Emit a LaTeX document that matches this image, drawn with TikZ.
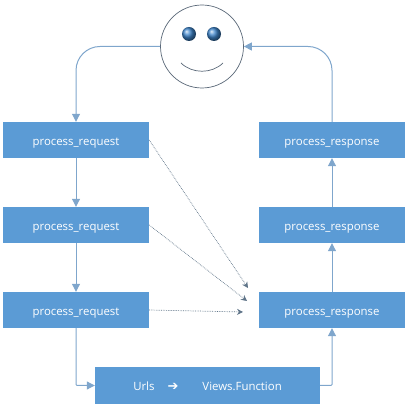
\documentclass[tikz,border=0pt]{standalone}
\usepackage{fontspec}
\setmainfont{Open Sans}
\newfontfamily\symbfont{DejaVu Sans}
\usetikzlibrary{arrows.meta,positioning,calc}
\definecolor{sm-blue}{HTML}{5B9BD5}
\definecolor{sm-line}{HTML}{7FA6CC}
\definecolor{sm-dot}{HTML}{5F7488}
\definecolor{sm-ink}{HTML}{5A6878}
\definecolor{sm-eye}{HTML}{3F86CC}

\begin{document}
\begin{tikzpicture}[
  x=1pt,y=1pt,font=\fontsize{11.4}{13}\selectfont,
  box/.style={fill=sm-blue,text=white,minimum width=146pt,minimum height=36pt,
              text height=13pt,text depth=2pt,align=center,inner sep=2pt},
  ar/.style={-{Triangle[length=8pt,width=8pt]},sm-line,line width=1pt},
  dt/.style={-{Stealth[length=6pt,width=6pt]},sm-dot,line width=0.7pt,densely dotted},
  eye/.style={circle,minimum size=14pt,inner sep=0pt,ball color=sm-eye}
]
\useasboundingbox (0,0) rectangle (411,420);

\node[draw=sm-ink,line width=0.7pt,fill=white,circle,minimum size=83pt,inner sep=0pt] (face) at (202,373.5) {};
\node[eye] (eyel) at (189,386) {};
\node[eye] (eyer) at (214,386) {};
\draw[sm-ink,line width=0.7pt] (181,357) .. controls (192,346) and (212,346) .. (223,357);

\node[box] (req1) at (76,280) {process\_request};
\node[box] (req2) at (76,195) {process\_request};
\node[box] (req3) at (76,110) {process\_request};

\node[box] (resp1) at (332,280) {process\_response};
\node[box] (resp2) at (332,195) {process\_response};
\node[box] (resp3) at (332,110) {process\_response};

\node[box,minimum width=225pt,minimum height=37pt] (views) at (207.5,34.5)
     {Urls\hspace{1.15em}{\symbfont\fontsize{13}{13}\selectfont ➔}\hspace{2.1em}Views.Function};

\draw[ar,rounded corners=24pt] (face.west) -| (req1.north);
\draw[ar] (req1) -- (req2);
\draw[ar] (req2) -- (req3);
\draw[ar,rounded corners=1pt] (req3.south) |- (views.west);
\draw[ar,rounded corners=1pt] (views.east) -| (resp3.south);
\draw[ar] (resp3) -- (resp2);
\draw[ar] (resp2) -- (resp1);
\draw[ar,rounded corners=24pt] (resp1.north) |- (face.east);

\coordinate (in1) at (248,132);
\coordinate (in2) at (247,119);
\coordinate (in3) at (243,108);
\draw[dt] (req1.east) -- (in1);
\draw[dt] (req2.east) -- (in2);
\draw[dt] (req3.east) -- (in3);

\end{tikzpicture}
\end{document}
